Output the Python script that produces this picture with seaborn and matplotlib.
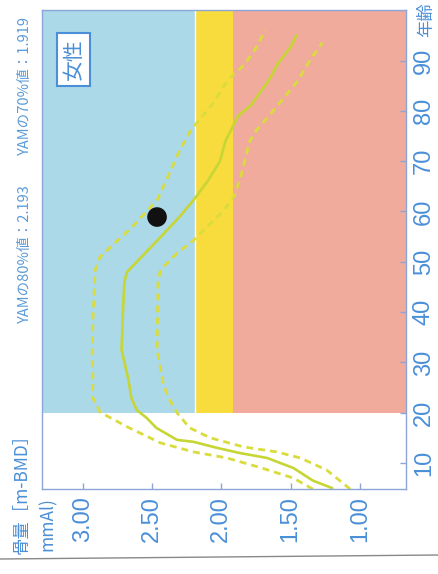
import matplotlib
matplotlib.use('Agg')
import matplotlib.pyplot as plt
import matplotlib.patches as mpatches
from matplotlib.lines import Line2D
import seaborn as sns
import pandas as pd

sns.set_style('white')

mean_age = [5, 6.5, 9, 11, 12, 13, 14.2, 14.6, 17, 19, 20.5, 23, 26.5, 32.5, 40, 46, 48,
            54.3, 59, 62.3, 66, 70, 74, 79, 81, 86, 89.5, 92.7, 95]
mean_val = [1.20, 1.34, 1.48, 1.67, 1.87, 2.03, 2.20, 2.32, 2.47, 2.54, 2.61, 2.65, 2.67, 2.72, 2.71,
            2.70, 2.68, 2.46, 2.30, 2.20, 2.10, 2.01, 1.97, 1.88, 1.79, 1.66, 1.59, 1.50, 1.46]

upper_age = [4.8, 7.0, 9.1, 11.0, 12.2, 14.0, 17.2, 20.1, 23.1, 26.5, 31.1, 39.0, 48.4, 51.0,
             57.0, 62.4, 72.2, 76.2, 79.2, 81.5, 84.7, 87.1, 88.5, 90.1, 92.1, 94.1, 96.1]
upper_val = [1.34, 1.48, 1.72, 1.96, 2.20, 2.44, 2.68, 2.875, 2.93, 2.926, 2.933, 2.926, 2.91, 2.875,
             2.64, 2.46, 2.30, 2.22, 2.13, 2.06, 1.99, 1.92, 1.86, 1.81, 1.76, 1.72, 1.685]

lower_age = [4.8, 8.6, 11.0, 12.2, 13.2, 15.0, 17.0, 20.0, 23.1, 25.9, 32.5, 45.8, 48.4, 51.7,
             54.3, 60.3, 62.9, 66.9, 71.3, 73.7, 75.7, 78.9, 82.6, 86.1, 89.7, 91.7, 93.6]
lower_val = [1.07, 1.24, 1.43, 1.60, 1.84, 2.08, 2.23, 2.32, 2.385, 2.42, 2.464, 2.457, 2.44, 2.32,
             2.20, 1.98, 1.91, 1.86, 1.82, 1.80, 1.76, 1.66, 1.55, 1.445, 1.37, 1.32, 1.27]

patient_age = [58.9]
patient_val = [2.464]

yam80 = 2.193
yam70 = 1.919
zone_start_age = 20

x_ticks = [3.00, 2.50, 2.00, 1.50, 1.00]
age_ticks = [10, 20, 30, 40, 50, 60, 70, 80, 90]

# colours
blue_zone = '#acd9e8'
yellow_zone = '#f8dc3e'
pink_zone = '#f0ab9c'
line_col = '#c6d634'
dash_col = '#d9dc3c'
text_col = '#4a8fd8'
spine_col = '#8ba5d8'

num_font = ['Liberation Sans Narrow', 'Liberation Sans', 'DejaVu Sans']
jp_font = ['Noto Sans CJK JP', 'DejaVu Sans']

fig = plt.figure(figsize=(4.38, 5.74), dpi=100)
ax = fig.add_axes([42 / 438, 1 - 489 / 574, 364 / 438, 479 / 574])

xmin, xmax = 3.294, 0.668
ymin, ymax = 4.83, 100.06

# zones
ax.fill_betweenx([zone_start_age, ymax], xmin, yam80, color=blue_zone, lw=0, zorder=0)
ax.fill_betweenx([zone_start_age, ymax], yam80, yam70, color=yellow_zone, lw=0, zorder=0)
ax.fill_betweenx([zone_start_age, ymax], yam70, xmax, color=pink_zone, lw=0, zorder=0)
ax.plot([yam80, yam80], [zone_start_age, ymax], color='white', lw=1.0, zorder=0.5)

# curves
df_mean = pd.DataFrame({'val': mean_val, 'age': mean_age})
df_up = pd.DataFrame({'val': upper_val, 'age': upper_age})
df_lo = pd.DataFrame({'val': lower_val, 'age': lower_age})

sns.lineplot(data=df_mean, x='val', y='age', sort=False, estimator=None, color=line_col, lw=1.9, ax=ax)
sns.lineplot(data=df_up, x='val', y='age', sort=False, estimator=None, color=dash_col, lw=2.0,
             linestyle=(0, (2.5, 1.8)), ax=ax)
sns.lineplot(data=df_lo, x='val', y='age', sort=False, estimator=None, color=dash_col, lw=2.0,
             linestyle=(0, (2.5, 1.8)), ax=ax)
sns.scatterplot(x=patient_val, y=patient_age, color='#111111', s=200, edgecolor='none', ax=ax, zorder=5)

ax.set_xlim(xmin, xmax)
ax.set_ylim(ymin, ymax)
ax.set_xlabel('')
ax.set_ylabel('')

# axes styling
for sp in ax.spines.values():
    sp.set_color(spine_col)
    sp.set_linewidth(1.0)

ax.yaxis.tick_right()
ax.set_xticks(x_ticks)
ax.set_xticklabels(['{:.2f}'.format(v) for v in x_ticks], rotation=90,
                   family=num_font, fontsize=17, color=text_col)
ax.set_yticks(age_ticks)
ax.set_yticklabels([str(a) for a in age_ticks], rotation=90, va='center',
                   family=num_font, fontsize=17, color=text_col)
ax.tick_params(axis='x', direction='in', length=4, width=1, color=spine_col, pad=5, bottom=True)
ax.tick_params(axis='y', direction='in', length=4, width=1, color=spine_col, pad=5,
               right=True, left=False, labelright=True, labelleft=False)

# labels and notes
ax.text(73.5 / 438, 1 - 59.5 / 574, '女性', transform=fig.transFigure, rotation=90,
        ha='center', va='center', fontsize=15, color=text_col, family=jp_font,
        bbox=dict(boxstyle='square,pad=0.25', fc='white', ec=text_col, lw=1.5))

fig.text(25 / 438, 1 - 323 / 574, 'YAMの80%値：2.193', rotation=90, ha='center', va='bottom',
         fontsize=10.5, color='#5b9bd8', family=jp_font)
fig.text(25 / 438, 1 - 155 / 574, 'YAMの70%値：1.919', rotation=90, ha='center', va='bottom',
         fontsize=10.5, color='#5b9bd8', family=jp_font)

fig.text(426 / 438, 1 - 2 / 574, '年齢', rotation=90, ha='center', va='top',
         fontsize=12.5, color=text_col, family=jp_font)

fig.text(22 / 438, 1 - 425 / 574, '骨量［m-BMD］', rotation=90, ha='center', va='top',
         fontsize=12.5, color=text_col, family=jp_font)
fig.text(48 / 438, 1 - 497 / 574, 'mmAl)', rotation=90, ha='center', va='top',
         fontsize=12.5, color=text_col, family=jp_font)

# page edge of the scan
fig.add_artist(mpatches.Rectangle((0, 0), 1, 1 - 558 / 574, transform=fig.transFigure,
                                  fc='white', ec='none', zorder=10))
fig.add_artist(Line2D([0, 1], [1 - 559 / 574, 1 - 555 / 574], transform=fig.transFigure,
                      color='#888888', lw=1.0, zorder=11))

fig.savefig('out.png', dpi=100)
